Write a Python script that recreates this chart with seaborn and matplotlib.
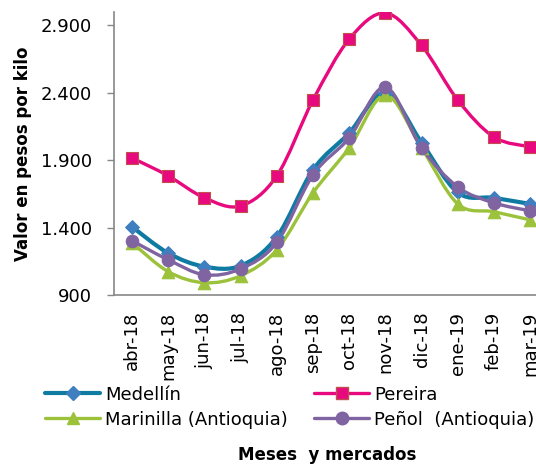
import numpy as np
import seaborn as sns
import matplotlib.pyplot as plt
from matplotlib.path import Path
from matplotlib.patches import PathPatch
from matplotlib.lines import Line2D
from matplotlib.ticker import FuncFormatter

meses = ['abr-18', 'may-18', 'jun-18', 'jul-18', 'ago-18', 'sep-18',
         'oct-18', 'nov-18', 'dic-18', 'ene-19', 'feb-19', 'mar-19']
medellin = [1405, 1210, 1110, 1117, 1330, 1827, 2100, 2400, 2030, 1660, 1620, 1575]
pereira = [1916, 1783, 1620, 1560, 1783, 2345, 2796, 2990, 2750, 2345, 2071, 1998]
marinilla = [1287, 1073, 991, 1043, 1235, 1657, 1990, 2382, 1990, 1575, 1517, 1457]
penol = [1302, 1161, 1050, 1094, 1290, 1790, 2064, 2440, 1990, 1701, 1583, 1524]
nombres = ['Medellín', 'Pereira', 'Marinilla (Antioquia)', 'Peñol  (Antioquia)']

estilos = [
    dict(color='#0F7BA3', marker='D', mfc='#3F7FC0', mec='#3F7FC0', ms=7, lw=3.0),
    dict(color='#E8097F', marker='s', mfc='#E8097F', mec='#C0504D', ms=8.5, lw=2.4),
    dict(color='#9BC23A', marker='^', mfc='#9BC23A', mec='#9BC23A', ms=9, lw=2.4),
    dict(color='#8063A1', marker='o', mfc='#8063A1', mec='#8063A1', ms=9, lw=2.4),
]

sns.set_style('white')
plt.rcParams['font.family'] = ['DejaVu Sans']
plt.rcParams['text.color'] = 'black'
plt.rcParams['axes.labelcolor'] = 'black'
plt.rcParams['xtick.labelcolor'] = 'black'
plt.rcParams['ytick.labelcolor'] = 'black'

fig = plt.figure(figsize=(5.36, 4.69), dpi=100)
ax = fig.add_axes([0.2127, 0.371, 0.81, 0.603])


def curva(xs, ys):
    # bezier suave tipo Excel entre puntos consecutivos
    pts = np.column_stack([xs, ys]).astype(float)
    verts = [pts[0]]
    codes = [Path.MOVETO]
    n = len(pts)
    for i in range(n - 1):
        p0 = pts[max(i - 1, 0)]
        p1 = pts[i]
        p2 = pts[i + 1]
        p3 = pts[min(i + 2, n - 1)]
        c1 = p1 + (p2 - p0) / 6
        c2 = p2 - (p3 - p1) / 6
        verts += [c1, c2, p2]
        codes += [Path.CURVE4] * 3
    return Path(verts, codes)


x = np.arange(len(meses))
handles = []
for serie, nombre, st in zip([medellin, pereira, marinilla, penol], nombres, estilos):
    ax.add_patch(PathPatch(curva(x, serie), fill=False, edgecolor=st['color'],
                           lw=st['lw'], capstyle='round', joinstyle='round', zorder=2))
    sns.scatterplot(x=x, y=serie, ax=ax, marker=st['marker'], color=st['mfc'],
                    edgecolor=st['mec'], s=st['ms'] ** 2, linewidth=0.8, zorder=3,
                    legend=False)
    handles.append(Line2D([0], [0], color=st['color'], lw=st['lw'], marker=st['marker'],
                          mfc=st['mfc'], mec=st['mec'], ms=st['ms']))

ax.set_xlim(-0.5, 11.5)
ax.set_ylim(900, 2996)
ax.set_yticks([900, 1400, 1900, 2400, 2900])
ax.yaxis.set_major_formatter(FuncFormatter(lambda v, p: f'{int(v):,}'.replace(',', '.')))
ax.set_xticks(x)
ax.set_xticklabels(meses, rotation=90, fontsize=13)
ax.tick_params(axis='y', labelsize=13, length=5, width=1, color='#878787', direction='out',
               left=True, pad=11, labelcolor='black')
ax.tick_params(axis='x', length=0, pad=12, labelcolor='black')
for s in ['top', 'right']:
    ax.spines[s].set_visible(False)
for s in ['left', 'bottom']:
    ax.spines[s].set_color('#878787')
    ax.spines[s].set_linewidth(1.2)

ax.set_ylabel('Valor en pesos por kilo', fontsize=12, fontweight='bold', color='black')
ax.yaxis.set_label_coords(-0.19, 0.5)

orden = [handles[0], handles[2], handles[1], handles[3]]
etiquetas = [nombres[0], nombres[2], nombres[1], nombres[3]]
fig.legend(orden, etiquetas, loc='upper left', bbox_to_anchor=(0.084, 0.178),
           ncol=2, frameon=False, fontsize=13, handlelength=3.05,
           handletextpad=0.28, columnspacing=1.45, labelspacing=0.4,
           borderaxespad=0, borderpad=0, labelcolor='black')
fig.text(0.61, 0.03, 'Meses  y mercados', ha='center', va='center',
         fontsize=12, fontweight='bold', color='black')

fig.savefig('out.png', dpi=100)
